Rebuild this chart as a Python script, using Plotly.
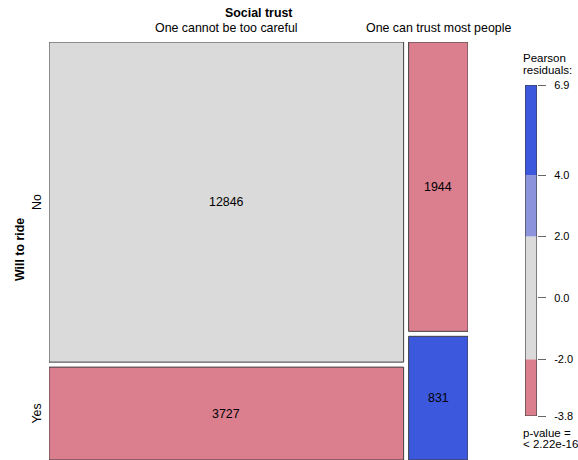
import numpy as np
import plotly.graph_objects as go

# Contingency table: Social trust (columns) x Will to ride (rows)
trust_levels = ["One cannot be too careful", "One can trust most people"]
ride_levels = ["No", "Yes"]
counts_no = [12846, 1944]
counts_yes = [3727, 831]

# Legend (Pearson residual) breaks and colours
shade_breaks = [-2.0, 2.0, 4.0]
shade_colors = ["#DB7F8F", "#DADADA", "#8C94DC", "#3C58DC"]
legend_ticks = [-2.0, 0.0, 2.0, 4.0]

W, H = 578, 460
FONT = "Liberation Sans, Arial, Helvetica, sans-serif"
BORDER = "#3F3F3F"
MAIN_SIZE = 12.4
LEG_SIZE = 11.5

table = np.array([counts_no, counts_yes], dtype=float)  # rows: ride, cols: trust
total = table.sum()
col_tot = table.sum(axis=0)
row_tot = table.sum(axis=1)
expected = np.outer(row_tot, col_tot) / total
resid = (table - expected) / np.sqrt(expected)
rmin, rmax = resid.min(), resid.max()


def shade(r):
    if r < shade_breaks[0]:
        return shade_colors[0]
    if r < shade_breaks[1]:
        return shade_colors[1]
    if r < shade_breaks[2]:
        return shade_colors[2]
    return shade_colors[3]


def px(x):
    return x / W


def py(y):
    return 1 - y / H


def label(x, y, text, xref="paper", yref="paper", size=MAIN_SIZE, angle=0,
          xanchor="center"):
    return dict(xref=xref, yref=yref, x=x, y=y, text=text, showarrow=False,
                xanchor=xanchor, yanchor="middle", textangle=angle,
                font=dict(size=size, color="#000000"))


gap = 0.0121
fig = go.Figure()
fig.add_trace(go.Scatter(x=[], y=[], xaxis="x", yaxis="y", showlegend=False))
fig.add_trace(go.Scatter(x=[], y=[], xaxis="x2", yaxis="y2", showlegend=False))

shapes = []
annotations = []

# Mosaic tiles: column widths ~ column totals, heights ~ conditional proportions
x0 = 0.0
for j in range(len(trust_levels)):
    w = col_tot[j] / total
    y0 = 0.0
    for i in range(len(ride_levels)):
        h = table[i, j] / col_tot[j]
        shapes.append(dict(type="rect", xref="x", yref="y",
                           x0=x0, x1=x0 + w, y0=y0, y1=y0 + h,
                           fillcolor=shade(resid[i, j]),
                           line=dict(color=BORDER, width=1), layer="above"))
        annotations.append(label(x0 + w / 2, y0 + h / 2, str(int(table[i, j])),
                                 xref="x", yref="y"))
        y0 += h + gap
    x0 += w + gap

# Column labels (top) and row labels (left)
annotations.append(label((1 + gap) / 2, py(13), "<b>Social trust</b>", xref="x"))
x0 = 0.0
for j, lab in enumerate(trust_levels):
    w = col_tot[j] / total
    annotations.append(label(x0 + w / 2, py(28), lab, xref="x"))
    x0 += w + gap

annotations.append(label(px(20), py(250), "<b>Will to ride</b>", angle=-90))
y0 = 0.0
for i, lab in enumerate(ride_levels):
    h = table[i, 0] / col_tot[0]
    annotations.append(label(px(37), y0 + h / 2, lab, yref="y", angle=-90))
    y0 += h + gap

# Residual legend bar
edges = [rmin] + shade_breaks + [rmax]
for k in range(len(shade_colors)):
    shapes.append(dict(type="rect", xref="x2", yref="y2",
                       x0=0, x1=1, y0=edges[k], y1=edges[k + 1],
                       fillcolor=shade_colors[k], line=dict(width=0), layer="below"))
shapes.append(dict(type="rect", xref="x2", yref="y2", x0=0, x1=1, y0=rmin, y1=rmax,
                   fillcolor="rgba(0,0,0,0)", line=dict(color=BORDER, width=1.2)))

tickvals = [rmin] + legend_ticks + [rmax]
ticktext = [f"{v:.1f}" for v in tickvals]

annotations.append(label(px(521), py(58), "Pearson", size=LEG_SIZE, xanchor="left"))
annotations.append(label(px(521), py(70), "residuals:", size=LEG_SIZE, xanchor="left"))
annotations.append(label(px(521), py(433), "p-value =", size=LEG_SIZE, xanchor="left"))
annotations.append(label(px(521), py(444), "< 2.22e-16", size=LEG_SIZE, xanchor="left"))

fig.update_layout(
    width=W, height=H,
    margin=dict(l=0, r=0, t=0, b=0, pad=0, autoexpand=False),
    paper_bgcolor="white", plot_bgcolor="rgba(0,0,0,0)",
    font=dict(family=FONT, size=MAIN_SIZE, color="#000000"),
    showlegend=False,
    xaxis=dict(domain=[px(49), px(468)], range=[0, 1 + gap], visible=False,
               fixedrange=True),
    yaxis=dict(domain=[0, py(42)], range=[1 + gap, 0], visible=False,
               fixedrange=True),
    xaxis2=dict(domain=[px(525), px(537)], range=[0, 1], visible=False,
                anchor="y2"),
    yaxis2=dict(domain=[py(416), py(85)], range=[rmin, rmax], anchor="x2",
                side="right", showgrid=False, zeroline=False, showline=False,
                ticks="outside", ticklen=8, tickcolor="#666666", tickwidth=1,
                tickvals=tickvals, ticktext=ticktext, ticklabelstandoff=6,
                automargin=False, tickfont=dict(size=11, color="#000000")),
    shapes=shapes,
    annotations=annotations,
)

fig.write_html("out.html")
